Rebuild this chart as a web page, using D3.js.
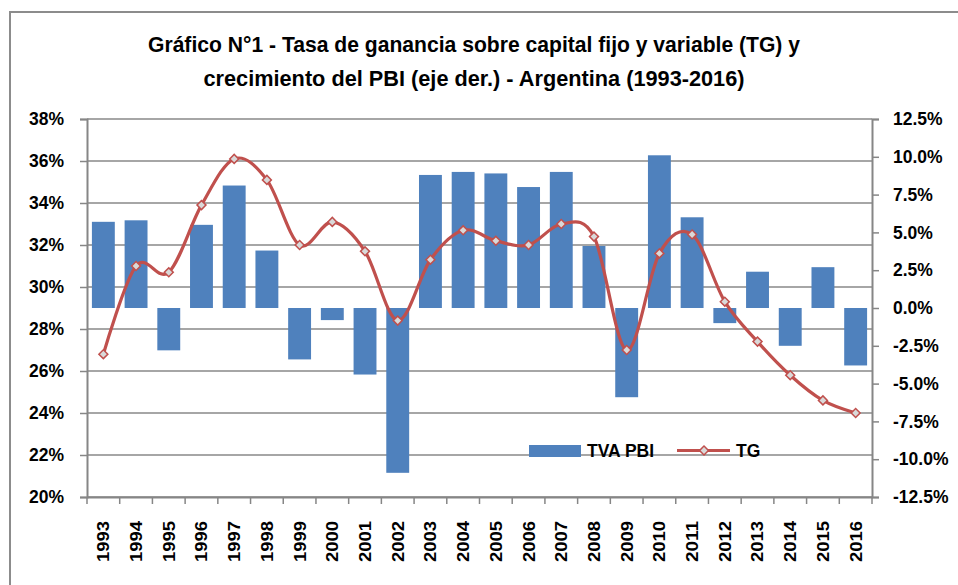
<!DOCTYPE html>
<html>
<head>
<meta charset="utf-8">
<script src="https://cdn.jsdelivr.net/npm/d3@7"></script>
<style>
  body { margin: 0; background: #fff; }
  text { font-family: "Liberation Sans", Arial, sans-serif; font-weight: bold; fill: #000; }
  .title { font-family: "Liberation Sans Narrow", "Liberation Sans", sans-serif; }
</style>
</head>
<body>
<svg id="chart" width="958" height="585"></svg>
<script>
  // categories
  var years = ["1993","1994","1995","1996","1997","1998","1999","2000","2001","2002","2003","2004",
               "2005","2006","2007","2008","2009","2010","2011","2012","2013","2014","2015","2016"];
  // crecimiento del PBI, % (eje der.)
  var tvaPbi = [5.7, 5.8, -2.8, 5.5, 8.1, 3.8, -3.4, -0.8, -4.4, -10.9, 8.8, 9.0,
                8.9, 8.0, 9.0, 4.1, -5.9, 10.1, 6.0, -1.0, 2.4, -2.5, 2.7, -3.8];
  // tasa de ganancia, % (eje izq.)
  var tg = [26.8, 31.0, 30.7, 33.9, 36.1, 35.1, 32.0, 33.1, 31.7, 28.4, 31.3, 32.7,
            32.2, 32.0, 33.0, 32.4, 27.0, 31.6, 32.5, 29.3, 27.4, 25.8, 24.6, 24.0];
  // tick labels
  var leftTicks = [20, 22, 24, 26, 28, 30, 32, 34, 36, 38];
  var rightTicks = [-12.5, -10, -7.5, -5, -2.5, 0, 2.5, 5, 7.5, 10, 12.5];
  var titleLines = ["Gráfico N°1 - Tasa de ganancia sobre capital fijo y variable (TG) y",
                    "crecimiento del PBI (eje der.)  - Argentina (1993-2016)"];

  var plotL = 87, plotR = 872, plotT = 119, plotB = 497;
  var red = "#C0504D", blue = "#4F81BD";

  var svg = d3.select("#chart");

  // chart border
  svg.append("rect").attr("x", 10).attr("y", 12).attr("width", 960).attr("height", 600)
    .attr("fill", "none").attr("stroke", "#8c8c8c").attr("stroke-width", 2);

  var x = d3.scaleBand().domain(years).range([plotL, plotR]).paddingInner(0.3).paddingOuter(0.15);
  var yL = d3.scaleLinear().domain([20, 38]).range([plotB, plotT]);
  var yR = d3.scaleLinear().domain([-12.5, 12.5]).range([plotB, plotT]);

  // title
  svg.selectAll("text.title").data(titleLines).enter().append("text")
    .attr("class", "title")
    .attr("x", 474).attr("y", function(d, i) { return 52 + i * 34; })
    .attr("text-anchor", "middle").attr("font-size", 21.5)
    .attr("textLength", function(d, i) { return i == 0 ? 652 : 541; })
    .attr("lengthAdjust", "spacingAndGlyphs")
    .text(function(d) { return d; });

  // gridlines
  svg.append("g").selectAll("line").data(leftTicks).enter().append("line")
    .attr("x1", plotL).attr("x2", plotR)
    .attr("y1", function(d) { return yL(d); }).attr("y2", function(d) { return yL(d); })
    .attr("stroke", "#a6a6a6").attr("stroke-width", 2);

  // bars
  svg.append("g").selectAll("rect").data(tvaPbi).enter().append("rect")
    .attr("x", function(d, i) { return x(years[i]); })
    .attr("width", x.bandwidth())
    .attr("y", function(d) { return yR(Math.max(0, d)); })
    .attr("height", function(d) { return Math.abs(yR(d) - yR(0)); })
    .attr("fill", blue);

  var cx = function(d, i) { return x(years[i]) + x.bandwidth() / 2; };

  // TG line (smoothed)
  var line = d3.line().x(cx).y(function(d) { return yL(d); }).curve(d3.curveCardinal.tension(0));
  svg.append("path").datum(tg).attr("d", line)
    .attr("fill", "none").attr("stroke", red).attr("stroke-width", 3.2);

  var diamond = d3.symbol().type(d3.symbolSquare).size(40);
  svg.append("g").selectAll("path").data(tg).enter().append("path")
    .attr("d", diamond)
    .attr("transform", function(d, i) { return "translate(" + cx(d, i) + "," + yL(d) + ") rotate(45)"; })
    .attr("fill", "#d9d9d9").attr("stroke", red).attr("stroke-width", 1.5);

  // axes
  var fmtR = d3.formatLocale({decimal: ".", thousands: ",", grouping: [3], currency: ["", ""], minus: "-"}).format(".1f");

  var gL = svg.append("g").attr("transform", "translate(" + plotL + ",0)")
    .call(d3.axisLeft(yL).tickValues(leftTicks).tickSize(7).tickPadding(16)
      .tickFormat(function(d) { return d + "%"; }));
  var gR = svg.append("g").attr("transform", "translate(" + plotR + ",0)")
    .call(d3.axisRight(yR).tickValues(rightTicks).tickSize(7).tickPadding(14)
      .tickFormat(function(d) { return fmtR(d) + "%"; }));
  var gX = svg.append("g").attr("transform", "translate(0," + plotB + ")")
    .call(d3.axisBottom(x).tickSize(0).tickPadding(0));

  [gL, gR, gX].forEach(function(g) {
    g.select(".domain").attr("stroke", "#868686").attr("stroke-width", 2);
    g.selectAll(".tick line").attr("stroke", "#868686").attr("stroke-width", 1.5);
    g.selectAll("text").attr("font-family", null).attr("font-size", 17.5).attr("fill", "#000");
  });

  // category boundary ticks
  gX.append("g").selectAll("line").data(years.concat(["end"])).enter().append("line")
    .attr("x1", function(d, i) { return plotL + i * x.step(); })
    .attr("x2", function(d, i) { return plotL + i * x.step(); })
    .attr("y1", 0).attr("y2", 7)
    .attr("stroke", "#868686").attr("stroke-width", 1.5);

  gX.selectAll(".tick text")
    .attr("transform", "rotate(-90)")
    .attr("text-anchor", "end")
    .attr("x", -24).attr("y", 0).attr("dy", "0.35em")
    .attr("font-size", 17)
    .attr("textLength", 41).attr("lengthAdjust", "spacingAndGlyphs");

  // legend
  var lg = svg.append("g");
  lg.append("rect").attr("x", 529).attr("y", 445).attr("width", 52).attr("height", 12).attr("fill", blue);
  lg.append("text").attr("x", 587).attr("y", 457).attr("font-size", 17.5).text("TVA PBI");
  lg.append("line").attr("x1", 677).attr("x2", 730).attr("y1", 450.5).attr("y2", 450.5)
    .attr("stroke", red).attr("stroke-width", 3.2);
  lg.append("path").attr("d", diamond).attr("transform", "translate(704,450.5) rotate(45)")
    .attr("fill", "#d9d9d9").attr("stroke", red).attr("stroke-width", 1.5);
  lg.append("text").attr("x", 736).attr("y", 457).attr("font-size", 17.5).text("TG");
</script>
</body>
</html>
